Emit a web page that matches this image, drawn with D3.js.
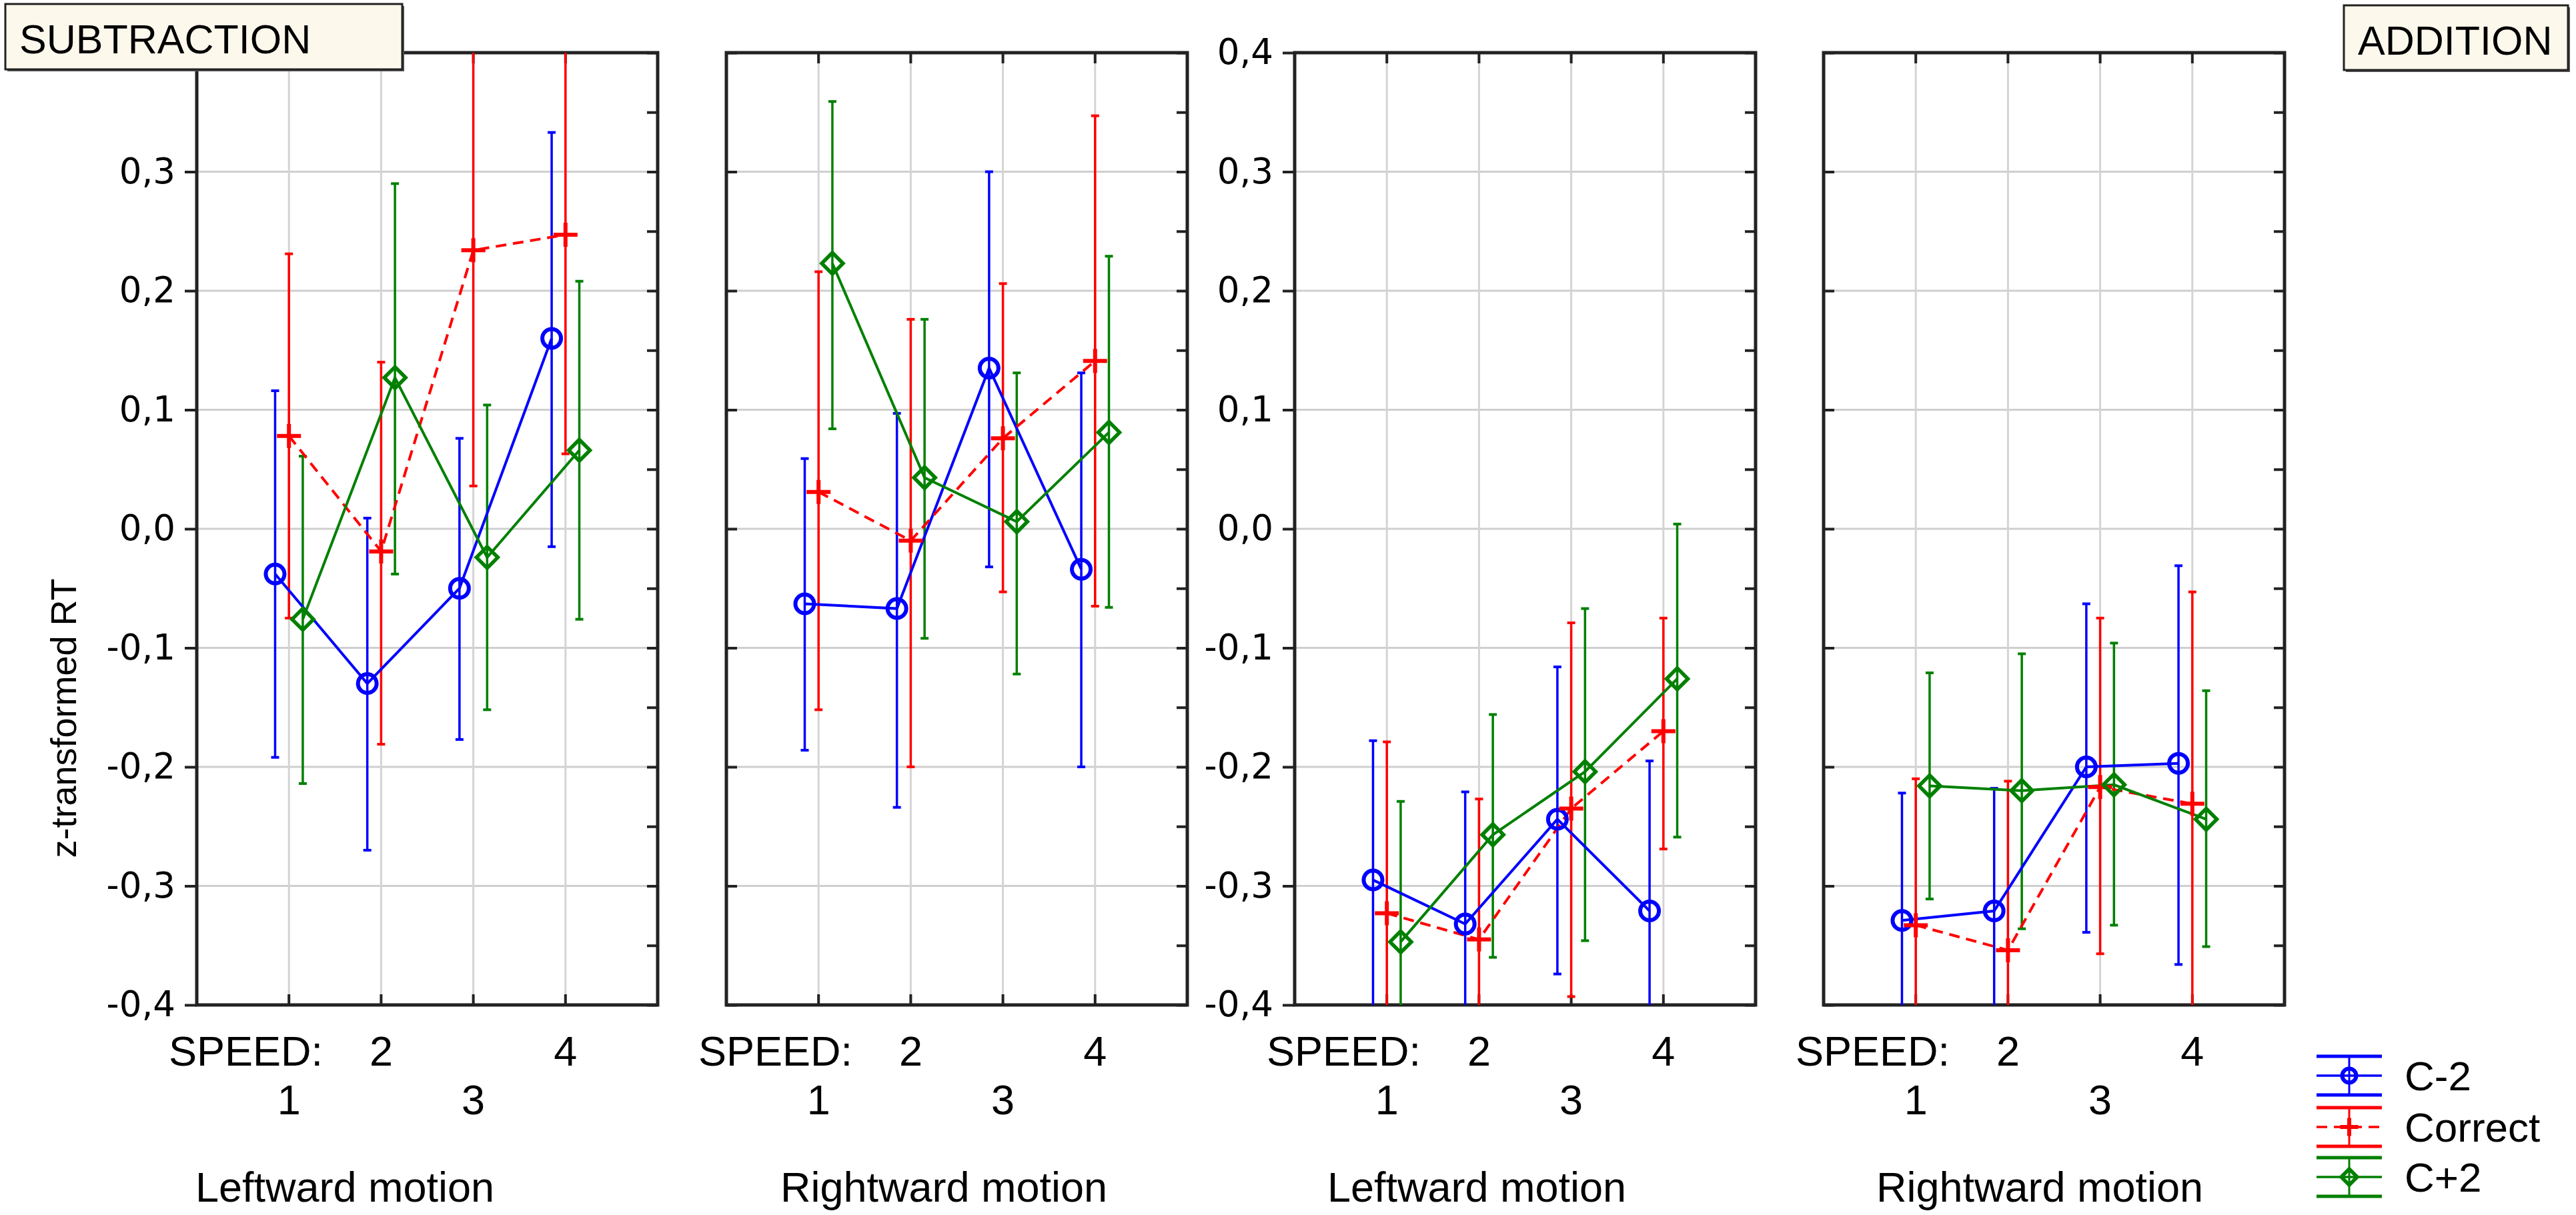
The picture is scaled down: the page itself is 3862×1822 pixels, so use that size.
<!DOCTYPE html>
<html>
<head>
<meta charset="utf-8">
<script src="https://cdn.jsdelivr.net/npm/d3@7"></script>
<style>
  html, body { margin: 0; padding: 0; background: #fff; }
  svg { display: block; }
  text { font-family: "Liberation Sans", Arial, sans-serif; fill: #000; }
  .ticklab { font-family: "DejaVu Sans", Verdana, sans-serif; }
</style>
</head>
<body>
<svg width="3862" height="1822"></svg>
<script>
// ---- data ----
const speeds = [1, 2, 3, 4];
const seriesNames = ["C-2", "Correct", "C+2"];
const motionLabels = ["Leftward motion", "Rightward motion", "Leftward motion", "Rightward motion"];
const yTicks = [-0.4, -0.3, -0.2, -0.1, 0.0, 0.1, 0.2, 0.3, 0.4];

// rows = panels (sub-left, sub-right, add-left, add-right), cols = speed 1..4
const c2Mean = [
  [-0.038, -0.130, -0.050, 0.160],
  [-0.063, -0.067, 0.135, -0.034],
  [-0.295, -0.332, -0.244, -0.321],
  [-0.329, -0.321, -0.200, -0.197]
];
const c2Upper = [
  [0.116, 0.009, 0.076, 0.333],
  [0.059, 0.097, 0.300, 0.131],
  [-0.178, -0.221, -0.116, -0.195],
  [-0.222, -0.218, -0.063, -0.031]
];
const c2Lower = [
  [-0.192, -0.270, -0.177, -0.015],
  [-0.186, -0.234, -0.032, -0.200],
  [-0.412, -0.443, -0.374, -0.447],
  [-0.436, -0.424, -0.339, -0.366]
];

const corMean = [
  [0.078, -0.019, 0.234, 0.247],
  [0.031, -0.010, 0.076, 0.141],
  [-0.323, -0.345, -0.235, -0.170],
  [-0.333, -0.354, -0.217, -0.231]
];
const corUpper = [
  [0.231, 0.140, 0.432, 0.431],
  [0.216, 0.176, 0.206, 0.347],
  [-0.179, -0.227, -0.079, -0.075],
  [-0.210, -0.212, -0.075, -0.053]
];
const corLower = [
  [-0.075, -0.181, 0.036, 0.063],
  [-0.152, -0.200, -0.053, -0.065],
  [-0.467, -0.463, -0.393, -0.269],
  [-0.456, -0.496, -0.357, -0.409]
];

const cp2Mean = [
  [-0.076, 0.127, -0.024, 0.066],
  [0.223, 0.043, 0.006, 0.081],
  [-0.347, -0.257, -0.204, -0.126],
  [-0.216, -0.220, -0.215, -0.244]
];
const cp2Upper = [
  [0.061, 0.290, 0.104, 0.208],
  [0.359, 0.176, 0.131, 0.229],
  [-0.229, -0.156, -0.067, 0.004],
  [-0.121, -0.105, -0.096, -0.136]
];
const cp2Lower = [
  [-0.214, -0.038, -0.152, -0.076],
  [0.084, -0.092, -0.122, -0.066],
  [-0.465, -0.360, -0.346, -0.259],
  [-0.311, -0.336, -0.333, -0.351]
];

// ---- layout / style ----
const svg = d3.select("svg");
const panelLeft = [295, 1089, 1941, 2734];
const panelW = 691;
const plotTop = 79, plotBottom = 1507;
const motionX = [517, 1415, 2214, 3058];
const withLabels = [true, false, true, false];

const series = [
  {name: seriesNames[0], mean: c2Mean, lo: c2Lower, hi: c2Upper, color: "#0000ff", dash: null, shape: "circle", dx: -0.15},
  {name: seriesNames[1], mean: corMean, lo: corLower, hi: corUpper, color: "#ff0000", dash: "16,10", shape: "plus", dx: 0},
  {name: seriesNames[2], mean: cp2Mean, lo: cp2Lower, hi: cp2Upper, color: "#008000", dash: null, shape: "diamond", dx: 0.15}
];

const y = d3.scaleLinear().domain([-0.4, 0.4]).range([plotBottom, plotTop]);
const fmt = v => d3.format(".1f")(v).replace(".", ",").replace("−", "-");

function drawMarker(g, shape, color, cx, cy, s) {
  if (shape === "circle") {
    g.append("circle").attr("cx", cx).attr("cy", cy).attr("r", 14 * s)
      .attr("fill", "none").attr("stroke", color).attr("stroke-width", 6);
  } else if (shape === "plus") {
    const h = 18 * s;
    g.append("path").attr("d", `M${cx - h},${cy}H${cx + h}M${cx},${cy - h}V${cy + h}`)
      .attr("stroke", color).attr("stroke-width", 6).attr("fill", "none");
  } else {
    const h = 16 * s;
    g.append("path").attr("d", `M${cx},${cy - h}L${cx + h},${cy}L${cx},${cy + h}L${cx - h},${cy}Z`)
      .attr("fill", "none").attr("stroke", color).attr("stroke-width", 5.5);
  }
}

panelLeft.forEach((left, p) => {
  const x = d3.scaleLinear().domain([0, 5]).range([left, left + panelW]);
  const g = svg.append("g");

  // clip
  svg.append("clipPath").attr("id", "clip" + p)
    .append("rect").attr("x", left).attr("y", plotTop).attr("width", panelW).attr("height", plotBottom - plotTop);

  // grid
  g.selectAll(".hg").data(yTicks).enter().append("line")
    .attr("x1", left).attr("x2", left + panelW)
    .attr("y1", d => y(d)).attr("y2", d => y(d))
    .attr("stroke", "#cfcfcf").attr("stroke-width", 3);
  g.selectAll(".vg").data(speeds).enter().append("line")
    .attr("x1", d => x(d)).attr("x2", d => x(d))
    .attr("y1", plotTop).attr("y2", plotBottom)
    .attr("stroke", "#d4d4d4").attr("stroke-width", 3);

  // y axis on left
  if (withLabels[p]) {
    const ax = g.append("g").attr("transform", `translate(${left},0)`)
      .call(d3.axisLeft(y).tickValues(yTicks).tickSize(18).tickPadding(14).tickFormat(fmt));
    ax.select(".domain").remove();
    ax.selectAll("line").attr("stroke", "#222").attr("stroke-width", 4);
    ax.selectAll("text").attr("class", "ticklab").attr("font-size", 53).attr("fill", "#000");
  } else {
    const ax = g.append("g").attr("transform", `translate(${left},0)`)
      .call(d3.axisRight(y).tickValues(yTicks).tickSize(16).tickFormat(""));
    ax.select(".domain").remove();
    ax.selectAll("line").attr("stroke", "#222").attr("stroke-width", 4);
  }
  // right side ticks (major + minor, inward)
  const rTicks = d3.range(-0.4, 0.401, 0.05);
  const rax = g.append("g").attr("transform", `translate(${left + panelW},0)`)
    .call(d3.axisLeft(y).tickValues(rTicks).tickSize(16).tickFormat(""));
  rax.select(".domain").remove();
  rax.selectAll("line").attr("stroke", "#222").attr("stroke-width", 4);
  // top and bottom ticks
  [[plotTop, 16], [plotBottom, -16]].forEach(([yy, len]) => {
    g.selectAll(null).data(speeds).enter().append("line")
      .attr("x1", d => x(d)).attr("x2", d => x(d))
      .attr("y1", yy).attr("y2", yy + len)
      .attr("stroke", "#222").attr("stroke-width", 4);
  });

  // frame
  g.append("rect").attr("x", left).attr("y", plotTop).attr("width", panelW).attr("height", plotBottom - plotTop)
    .attr("fill", "none").attr("stroke", "#222").attr("stroke-width", 5);

  // data
  const dg = svg.append("g").attr("clip-path", `url(#clip${p})`);
  series.forEach(s => {
    speeds.forEach((sp, i) => {
      const cx = x(sp + s.dx);
      dg.append("line").attr("x1", cx).attr("x2", cx)
        .attr("y1", y(s.lo[p][i])).attr("y2", y(s.hi[p][i]))
        .attr("stroke", s.color).attr("stroke-width", 3.5);
      [s.lo[p][i], s.hi[p][i]].forEach(v => {
        dg.append("line").attr("x1", cx - 6).attr("x2", cx + 6)
          .attr("y1", y(v)).attr("y2", y(v))
          .attr("stroke", s.color).attr("stroke-width", 4);
      });
    });
  });
  series.forEach(s => {
    const line = d3.line().x((d, i) => x(speeds[i] + s.dx)).y(d => y(d));
    dg.append("path").datum(s.mean[p]).attr("d", line)
      .attr("fill", "none").attr("stroke", s.color).attr("stroke-width", 4)
      .attr("stroke-dasharray", s.dash);
  });
  series.forEach(s => {
    s.mean[p].forEach((v, i) => drawMarker(svg, s.shape, s.color, x(speeds[i] + s.dx), y(v), 1));
  });

  // x labels
  svg.append("text").attr("x", left - 42).attr("y", 1598).attr("font-size", 63).text("SPEED:");
  speeds.forEach((sp, i) => {
    svg.append("text").attr("x", x(sp)).attr("y", i % 2 === 0 ? 1671 : 1598)
      .attr("text-anchor", "middle").attr("font-size", 63).text(sp);
  });
  svg.append("text").attr("x", motionX[p]).attr("y", 1802)
    .attr("text-anchor", "middle").attr("font-size", 63).text(motionLabels[p]);
});

// y title
svg.append("text").attr("transform", "translate(114,1077) rotate(-90)")
  .attr("text-anchor", "middle").attr("font-size", 54).text("z-transformed RT");

// title boxes
function titleBox(x0, y0, w, h, label) {
  svg.append("rect").attr("x", x0 + 3).attr("y", y0 + 3).attr("width", w).attr("height", h).attr("fill", "#555");
  svg.append("rect").attr("x", x0).attr("y", y0).attr("width", w).attr("height", h)
    .attr("fill", "#fcf8ec").attr("stroke", "#222").attr("stroke-width", 3);
  svg.append("text").attr("x", x0 + 21).attr("y", y0 + 74).attr("font-size", 61).text(label);
}
titleBox(8, 6, 595, 98, "SUBTRACTION");
titleBox(3514, 8, 336, 97, "ADDITION");

// legend
const legY = [1613, 1690, 1765];
const legX = 3522;
series.forEach((s, k) => {
  const cy = legY[k];
  const lg = svg.append("g");
  lg.append("line").attr("x1", legX - 49).attr("x2", legX + 49).attr("y1", cy - 29).attr("y2", cy - 29)
    .attr("stroke", s.color).attr("stroke-width", 5);
  lg.append("line").attr("x1", legX - 49).attr("x2", legX + 49).attr("y1", cy + 29).attr("y2", cy + 29)
    .attr("stroke", s.color).attr("stroke-width", 5);
  lg.append("line").attr("x1", legX).attr("x2", legX).attr("y1", cy - 29).attr("y2", cy + 29)
    .attr("stroke", s.color).attr("stroke-width", 3);
  lg.append("line").attr("x1", legX - 49).attr("x2", legX + 49).attr("y1", cy).attr("y2", cy)
    .attr("stroke", s.color).attr("stroke-width", 3.5).attr("stroke-dasharray", s.dash);
  drawMarker(lg, s.shape, s.color, legX, cy, 0.75);
  svg.append("text").attr("x", 3605).attr("y", cy + 22).attr("font-size", 62).text(s.name);
});
</script>
</body>
</html>
